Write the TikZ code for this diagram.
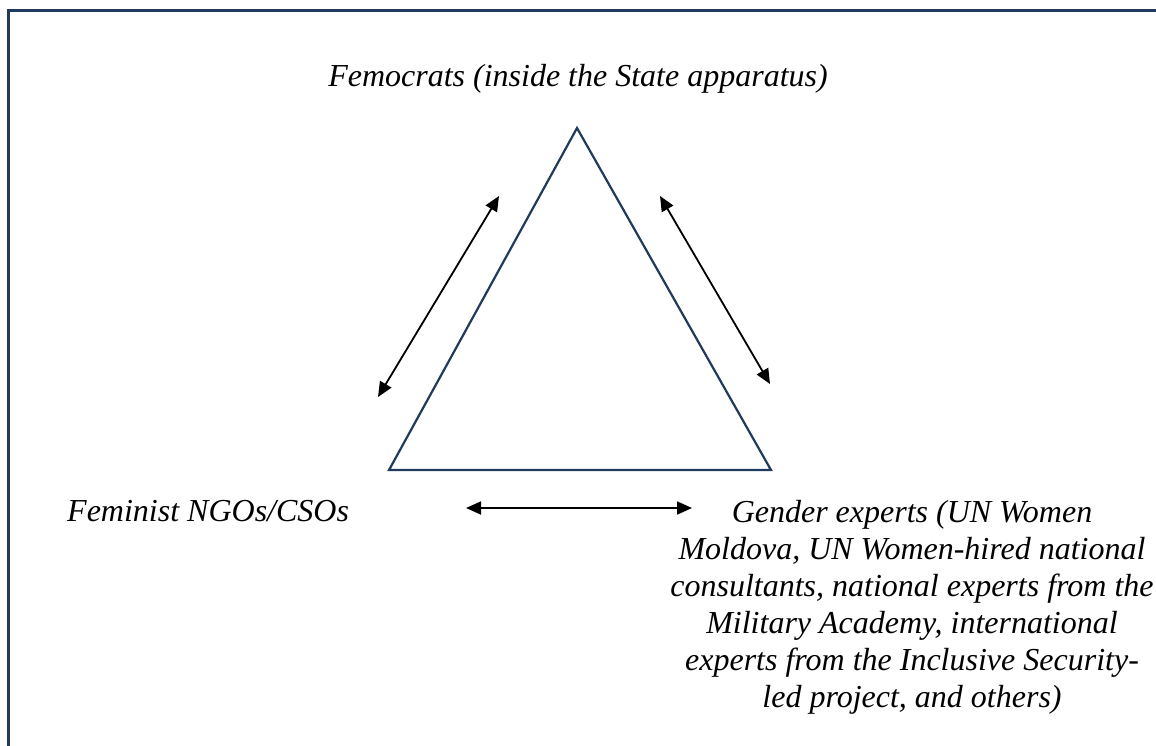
\documentclass[tikz,border=0pt]{standalone}
\usepackage{fontspec}
\setmainfont{Liberation Serif}
\usetikzlibrary{arrows.meta}
\definecolor{navy}{HTML}{1F3A5C}
\begin{document}
\begin{tikzpicture}[x=1pt,y=-1pt,
  lbl/.style={font=\fontsize{32}{37}\selectfont\itshape, inner sep=0pt, align=center},
  link/.style={line width=1.8pt, {Triangle[length=15pt,width=13pt]}-{Triangle[length=15pt,width=13pt]}},
  edge/.style={draw=navy, line width=2.2pt, line join=miter}]
\useasboundingbox (0,0) rectangle (1156,745);
% page frame (left and top edges visible)
\draw[navy, line width=3pt] (8.5,760) -- (8.5,10.5) -- (1170,10.5);

% triangle
\coordinate (apex) at (577,128);
\coordinate (bl) at (389,470);
\coordinate (br) at (771,470);
\draw[edge] (apex) -- (bl) -- (br) -- cycle;

% labels
\node[lbl, anchor=base] (fem) at (578,86) {Femocrats (inside the State apparatus)};
\node[lbl, anchor=base west] (ngo) at (67,521) {Feminist NGOs/CSOs};
\node[lbl, anchor=north] (gen) at (912,500) {Gender experts (UN Women\\Moldova, UN Women-hired national\\consultants, national experts from the\\Military Academy, international\\experts from the Inclusive Security-\\led project, and others)};

% two-way links
\coordinate (la) at (499,196);
\coordinate (lb) at (378,397);
\coordinate (ra) at (660,196);
\coordinate (rb) at (770,384);
\coordinate (ba) at (466,508);
\coordinate (bb) at (692,508);
\draw[link] (la) -- (lb);
\draw[link] (ra) -- (rb);
\draw[link] (ba) -- (bb);
\end{tikzpicture}
\end{document}
